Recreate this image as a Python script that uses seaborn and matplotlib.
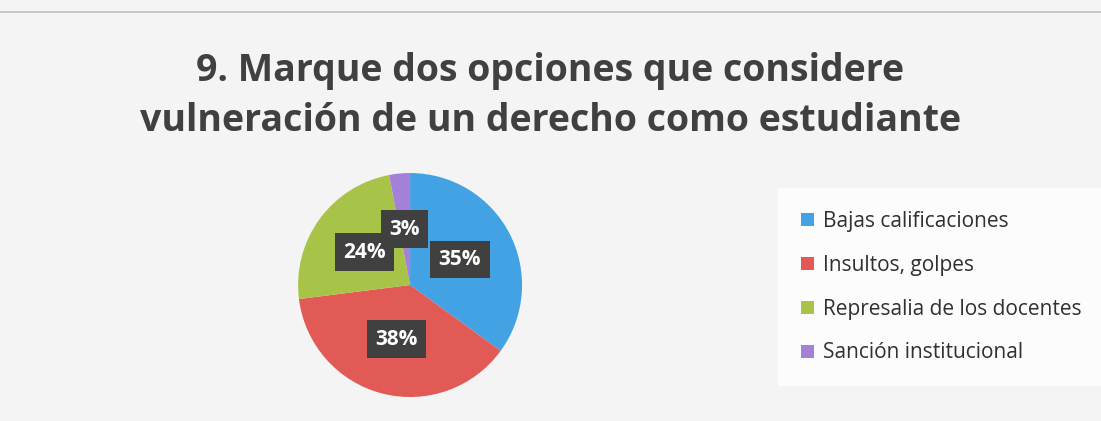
#!/usr/bin/env python3
"""Pie chart: vulneración de derechos como estudiante."""

import matplotlib

matplotlib.use("Agg")
import matplotlib.pyplot as plt
from matplotlib.patches import Patch
import seaborn as sns

categories = [
    "Bajas calificaciones",
    "Insultos, golpes",
    "Represalia de los docentes",
    "Sanción institucional",
]
shares = [35, 38, 24, 3]
colors = ["#43a2e3", "#e25a55", "#a7c448", "#a480d8"]
title = "9. Marque dos opciones que considere\nvulneración de un derecho como estudiante"

sns.set_theme(style="white")
plt.rcParams["font.family"] = ["Open Sans", "DejaVu Sans"]

fig = plt.figure(figsize=(11.01, 4.21), dpi=100)
fig.patch.set_facecolor("#f4f4f4")

# top border line of the scanned slide
fig.add_artist(plt.Line2D([0.0, 1.0], [0.972, 0.972], color="#bdbdbd", lw=1.2))

fig.text(0.5, 0.772, title, ha="center", va="center", fontsize=27,
         fontweight="bold", color="#404040", linespacing=1.4)

ax = fig.add_axes([0.2707, 0.0570, 0.2035, 0.532])
ax.set_facecolor("none")
wedges, texts, autotexts = ax.pie(
    shares,
    colors=colors,
    startangle=90,
    counterclock=False,
    autopct="%d%%",
    pctdistance=0.5,
    wedgeprops=dict(linewidth=0),
    textprops=dict(color="white", fontsize=15, fontweight="bold"),
)
for t in autotexts:
    t.set_bbox(dict(boxstyle="square,pad=0.4", facecolor="#404040", edgecolor="none"))
ax.set_xlim(-1, 1)
ax.set_ylim(-1, 1)
ax.set_aspect("equal")

handles = [Patch(facecolor=c, edgecolor="none") for c in colors]
leg = fig.legend(
    handles, categories,
    loc="center left", bbox_to_anchor=(0.703, 0.318),
    frameon=True, fontsize=15, handlelength=0.6, handleheight=0.6,
    handletextpad=0.45, labelspacing=1.1, borderpad=0.8,
)
leg.get_frame().set_facecolor("white")
leg.get_frame().set_edgecolor("none")
leg.get_frame().set_boxstyle("square")
for t in leg.get_texts():
    t.set_color("#303030")

fig.savefig("out.png", dpi=100, facecolor=fig.get_facecolor())
